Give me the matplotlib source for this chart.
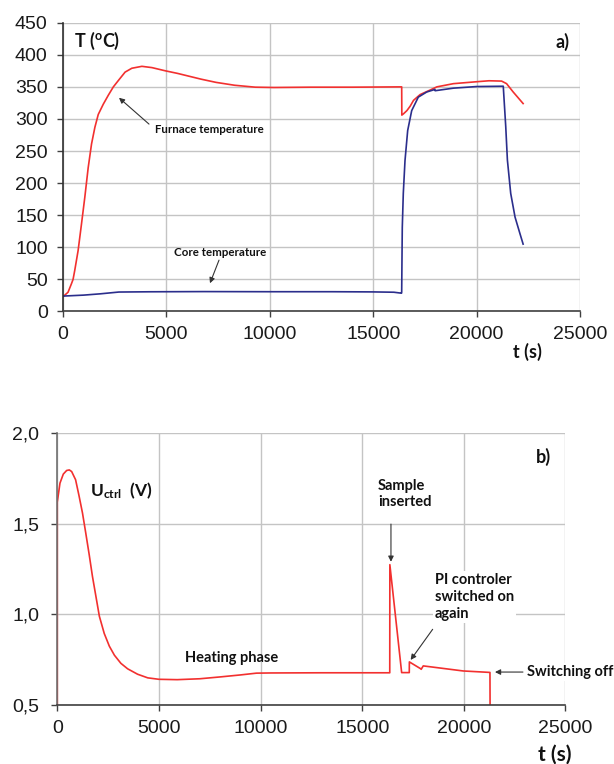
import numpy as np
import matplotlib
matplotlib.use("Agg")
import matplotlib.pyplot as plt

plt.rcParams["font.family"] = ["Liberation Sans", "DejaVu Sans"]
plt.rcParams["mathtext.fontset"] = "custom"
plt.rcParams["mathtext.rm"] = "Lato"
plt.rcParams["mathtext.bf"] = "Lato:bold"

# a) furnace temperature (red)
furnace_t = [0, 244, 406, 487, 568, 731, 893, 1055, 1218, 1380, 1542, 1705, 1948,
             2192, 2435, 2679, 3003, 3328, 3815, 4302, 4951, 5537, 6677, 7400,
             8300, 9300, 10200, 12000, 14000, 16378, 16385, 16465, 16630, 16790,
             16950, 17270, 17750, 18080, 18880, 20000, 20600, 21210, 21450, 21770,
             22250]
furnace_T = [23, 30, 43, 50, 64, 95, 136, 178, 224, 261, 287, 307, 323,
             337, 350, 360, 373, 379, 382, 380, 375, 371, 362, 357,
             352.5, 349.5, 349, 349.5, 349.5, 350, 306, 308, 313, 320,
             329, 338, 345, 350, 355, 358, 359.5, 359, 355, 342,
             324]

# a) core temperature (blue)
core_t = [0, 1000, 1800, 2700, 4200, 6800, 10000, 13000, 15000, 16000, 16370, 16378,
          16392, 16407, 16456, 16538, 16668, 16862, 17181, 17587, 17988, 17995,
          18880, 20000, 21290, 21330, 21410, 21490, 21650, 21860, 22100, 22250]
core_T = [24, 25.5, 27.5, 30.3, 30.7, 31, 30.8, 30.8, 30.5, 30, 28.5, 30,
          80, 131, 184, 235, 282, 313, 334, 342, 346, 344,
          348, 350.5, 351, 330, 288, 236, 184, 147, 121, 105]

# b) control voltage (red)
ctrl_t = [0, 0, 132, 296, 461, 592, 707, 900, 1070, 1240, 1400, 1570, 1730, 1900,
          2070, 2310, 2560, 2810, 3130, 3460, 3950, 4450, 5000, 5900, 7015, 8000,
          9000, 9800, 10500, 13000, 16355, 16360, 16940, 17315, 17320, 17880,
          17900, 18003, 18987, 19970, 21284, 21290]
ctrl_U = [0.5, 1.62, 1.725, 1.775, 1.795, 1.798, 1.789, 1.744, 1.655, 1.56,
          1.45, 1.33, 1.21, 1.10, 0.99, 0.895, 0.825, 0.775, 0.730, 0.700,
          0.670, 0.650, 0.642, 0.640, 0.645, 0.655, 0.666, 0.676, 0.677, 0.678,
          0.678, 1.275, 0.679, 0.679, 0.738, 0.700, 0.697, 0.716, 0.702, 0.688,
          0.680, 0.5]

t_ticks = [0, 5000, 10000, 15000, 20000, 25000]
T_ticks = [0, 50, 100, 150, 200, 250, 300, 350, 400, 450]
U_ticks = [0.5, 1.0, 1.5, 2.0]
U_labels = ["0,5", "1,0", "1,5", "2,0"]

RED = "#f2302f"
BLUE = "#2b2e8c"
GRID = "#c4c4c4"
BOLD = dict(family=["Lato", "DejaVu Sans"], fontweight="bold", color="#111111")
ARROW = dict(arrowstyle="-|>", color="#333333", lw=0.8, mutation_scale=8,
             shrinkA=0, shrinkB=0)

fig = plt.figure(figsize=(6.14, 7.64), dpi=100)
ax1 = fig.add_axes([0.1026, 0.5923, 0.8420, 0.3780])
ax2 = fig.add_axes([0.0933, 0.0772, 0.8277, 0.3556])


def style(ax, left_col, pad_y):
    for s in ["top", "right"]:
        ax.spines[s].set_visible(False)
    ax.spines["left"].set_color(left_col)
    ax.spines["bottom"].set_color("#404040")
    ax.spines["left"].set_linewidth(1.2)
    ax.spines["bottom"].set_linewidth(1.2)
    ax.grid(True, color=GRID, lw=1)
    ax.set_axisbelow(True)
    ax.tick_params(axis="both", direction="out", length=4, width=1,
                   colors="#404040", labelcolor="#1a1a1a", labelsize=14)
    ax.tick_params(axis="x", pad=6.5)
    ax.tick_params(axis="y", pad=pad_y)


# ---- a) temperatures
ax1.plot(furnace_t, furnace_T, color=RED, lw=1.2)
ax1.plot(core_t, core_T, color=BLUE, lw=1.2)
ax1.set_xlim(0, 25000)
ax1.set_ylim(0, 450)
ax1.set_xticks(t_ticks)
ax1.set_yticks(T_ticks)
style(ax1, "#303030", 7)

ax1.text(0.021, 0.935, "T ($^{\\mathbf{o}}$C)", transform=ax1.transAxes,
         fontsize=13, va="center", ha="left", **BOLD)
ax1.text(0.967, 0.935, "a)", transform=ax1.transAxes, fontsize=13,
         va="center", ha="center", **BOLD)
ax1.text(0.899, -0.140, "t (s)", transform=ax1.transAxes, fontsize=13,
         va="center", ha="center", **BOLD)

ax1.text(4449, 284, "Furnace temperature", fontsize=8.3, va="center", **BOLD)
ax1.annotate("", xy=(2708, 333), xytext=(4159, 292), arrowprops=ARROW)
ax1.text(5368, 91.6, "Core temperature", fontsize=8.3, va="center", **BOLD)
ax1.annotate("", xy=(7108, 44), xytext=(7544, 80), arrowprops=ARROW)

# ---- b) control voltage
ax2.plot(ctrl_t, ctrl_U, color=RED, lw=1.2)
ax2.set_xlim(0, 25000)
ax2.set_ylim(0.5, 2.0)
ax2.set_xticks(t_ticks)
ax2.set_yticks(U_ticks)
ax2.set_yticklabels(U_labels)
style(ax2, "#707070", 9)

ax2.text(0.064, 0.789, "$\\mathbf{U_{ctrl}}$  (V)", transform=ax2.transAxes,
         fontsize=12.5, va="center", ha="left", **BOLD)
ax2.text(0.956, 0.913, "b)", transform=ax2.transAxes, fontsize=13,
         va="center", ha="center", **BOLD)
ax2.text(0.979, -0.184, "t (s)", transform=ax2.transAxes, fontsize=15,
         va="center", ha="center", **BOLD)

ax2.text(6306, 0.761, "Heating phase", fontsize=10.5, va="center", **BOLD)
ax2.text(15775, 1.665, "Sample\ninserted", fontsize=10.5, va="center",
         linespacing=1.2, **BOLD)
ax2.annotate("", xy=(16414, 1.291), xytext=(16414, 1.499), arrowprops=ARROW)
ax2.text(18578, 1.096, "PI controler\nswitched on\nagain", fontsize=10.5,
         va="center", linespacing=1.25,
         bbox=dict(facecolor="white", edgecolor="none", pad=1.5), **BOLD)
ax2.annotate("", xy=(17383, 0.749), xytext=(18465, 0.918), arrowprops=ARROW)
ax2.text(23089, 0.682, "Switching off", fontsize=10.5, va="center",
         clip_on=False,
         bbox=dict(facecolor="white", edgecolor="none", pad=1.5), **BOLD)
ax2.annotate("", xy=(21530, 0.682), xytext=(22907, 0.682), arrowprops=ARROW)

fig.savefig("out.png", dpi=100)
